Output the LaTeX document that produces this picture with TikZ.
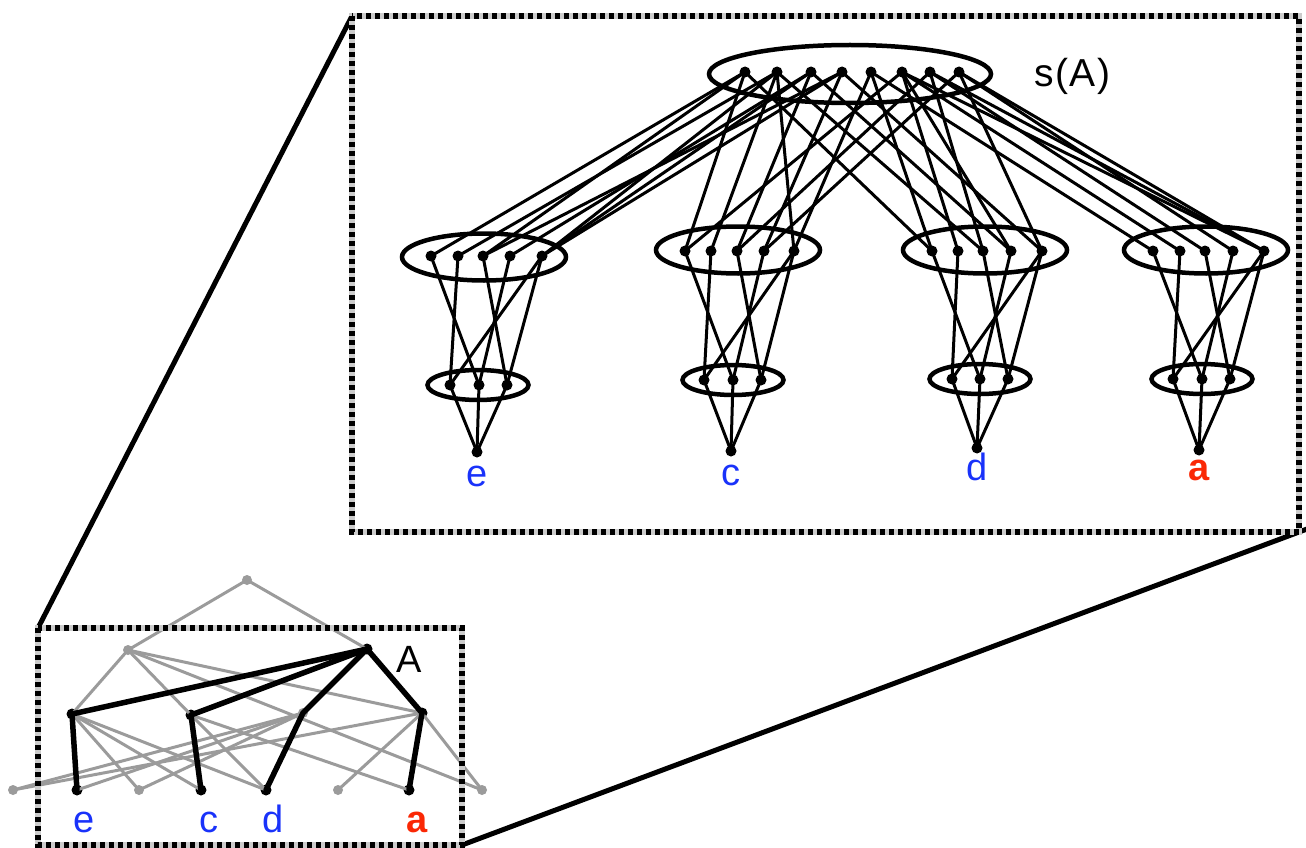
\documentclass[tikz,border=0pt]{standalone}
\usepackage{fontspec}
\setmainfont{Liberation Sans}
\usetikzlibrary{shapes.geometric,calc}
\definecolor{labblue}{RGB}{25,50,250}
\definecolor{labred}{RGB}{250,40,5}
\definecolor{edgegray}{RGB}{155,155,155}
\begin{document}
\begin{tikzpicture}[x=1pt,y=-1pt,
  dot/.style={circle,fill=black,inner sep=0pt,minimum size=11pt},
  ring/.style={draw,ellipse,line width=4.5pt,inner sep=0pt},
  wire/.style={line width=3pt,line cap=round},
  frame/.style={line width=6pt,draw=black,dash pattern=on 5pt off 4pt,
    preaction={draw=black!20,line width=6pt,solid}},
  zoomline/.style={line width=5pt},
  lab/.style={font=\fontsize{38}{40}\selectfont,inner sep=0pt,anchor=base},
  sdot/.style={circle,fill=edgegray,inner sep=0pt,minimum size=10pt},
  sdotb/.style={circle,fill=black,inner sep=0pt,minimum size=11pt},
  gline/.style={draw=edgegray,line width=3pt},
  bline/.style={draw=black,line width=5.5pt,line cap=round,line join=round}]
\useasboundingbox (0,0) rectangle (1306,848);

% corners of the two frames
\coordinate (bigNW) at (352,16);
\coordinate (bigSE) at (1299,532);
\coordinate (smallNW) at (38,628);
\coordinate (smallSE) at (462,845);

% lines joining the small frame to its enlargement
\draw[zoomline] (bigNW) -- (smallNW);
\draw[zoomline,shorten >=-12pt] (smallSE) -- (bigSE);

% ---------- enlarged view ----------
\node[ring,minimum width=282pt,minimum height=58pt] (topring) at (850,74) {};
\foreach \x [count=\i] in {745,777,811,842,871,902,930,959}
  \node[dot] (t\i) at (\x,72) {};
\node[font=\fontsize{39}{42}\selectfont,inner sep=0pt,anchor=base west] (slab) at (1034,87)
  {s\kern1.5pt(\kern1.5pt A\kern1.5pt)};

% g / ring centre / ring size / dot row / five dots / lower ring / three dots / leaf / label
\foreach \g/\cx/\cy/\my/\xa/\xb/\xc/\xd/\xe/\lx/\ly/\la/\lb/\lc/\bx/\by/\txt/\col/\tb in {
  1/484/257/256/431/458/483/510/542/478/385/450/479/507/477/452/e/labblue/486,
  2/738/250/251/685/711/737/764/794/733/380/704/733/761/731/451/c/labblue/485,
  3/985/250/251/932/958/983/1011/1042/980/379/952/980/1008/977/448/d/labblue/480,
  4/1206/250/251/1153/1180/1205/1233/1264/1202/379/1173/1202/1230/1199/450/a/labred/480}{
  \node[ring,minimum width=164pt,minimum height=47pt] (mring\g) at (\cx,\cy) {};
  \foreach \x [count=\i] in {\xa,\xb,\xc,\xd,\xe}
    \node[dot] (m\g\i) at (\x,\my) {};
  \node[ring,minimum width=101pt,minimum height=30pt] (lring\g) at (\lx,\ly) {};
  \foreach \x [count=\j] in {\la,\lb,\lc}
    \node[dot] (n\g\j) at (\x,\ly) {};
  \node[dot] (b\g) at (\bx,\by) {};
  \node[lab,text=\col] (lab\g) at (\bx,\tb) {\ifnum\g=4 \bfseries\fi\txt};
  % second row to third row
  \foreach \p/\q in {1/2,2/1,3/3,4/2,5/1,5/3}
    \draw[wire] (m\g\p.center) -- (n\g\q.center);
  % third row to leaf
  \foreach \j in {1,2,3}
    \draw[wire] (n\g\j.center) -- (b\g.center);
}

% top row to second row
\foreach \t/\g/\m in {
  1/1/1,2/1/2,1/1/3,4/1/3,3/1/4,2/1/5,3/1/5,4/1/5,
  1/2/1,6/2/1,2/2/2,3/2/3,7/2/3,4/2/4,8/2/4,5/2/5,2/2/5,
  5/3/1,1/3/1,6/3/2,2/3/3,7/3/3,3/3/4,6/3/4,8/3/5,4/3/5,
  5/4/1,6/4/2,7/4/3,8/4/4,6/4/5,7/4/5,8/4/5}
  \draw[wire] (t\t.center) -- (m\g\m.center);

\draw[frame] (bigNW) rectangle (bigSE);

% ---------- small graph ----------
\node[sdot] (st) at (247,580) {};
\node[sdot] (sg) at (128,650) {};
\node[sdotb] (sA) at (367,649) {};
\node[sdotb] (s1) at (72,714) {};
\node[sdotb] (s2) at (191,715) {};
\node[sdot] (s3) at (303,713) {};
\node[sdotb] (s4) at (422,713) {};
\node[sdot] (l1) at (13,790) {};
\node[sdotb] (l2) at (77,790) {};
\node[sdot] (l3) at (139,790) {};
\node[sdotb] (l4) at (201,790) {};
\node[sdotb] (l5) at (266,790) {};
\node[sdot] (l6) at (338,790) {};
\node[sdotb] (l7) at (409,790) {};
\node[sdot] (l8) at (482,790) {};

\foreach \a/\b in {st/sg,st/sA,sg/s1,sg/s2,sg/s4,sg/l8,
  s1/l3,s1/l4,s1/l5,s2/l5,s2/l7,s3/l1,s3/l2,s3/l3,s4/l1,s4/l6,s4/l8}
  \draw[gline] (\a.center) -- (\b.center);
\foreach \a/\b in {sA/s1,sA/s2,sA/s4,s1/l2,s2/l4,s4/l7}
  \draw[bline] (\a.center) -- (\b.center);
\draw[bline] (sA.center) -- (s3.center) -- (l5.center);

\node[lab] (sle) at (84,832) {\textcolor{labblue}{e}};
\node[lab] (slc) at (209,832) {\textcolor{labblue}{c}};
\node[lab] (sld) at (273,832) {\textcolor{labblue}{d}};
\node[lab,font=\fontsize{38}{40}\selectfont\bfseries] (sla) at (417,832) {\textcolor{labred}{a}};
\node[lab,anchor=base west] (slA) at (396,672) {A};

\draw[frame] (smallNW) rectangle (smallSE);
\end{tikzpicture}
\end{document}
